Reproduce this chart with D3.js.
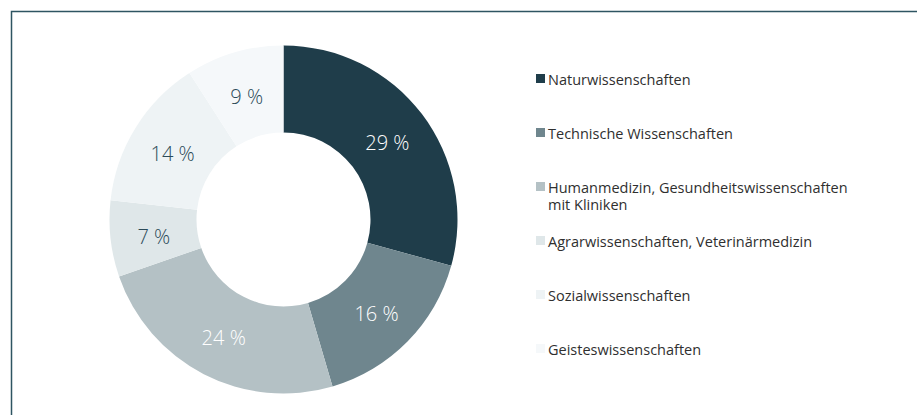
<!DOCTYPE html>
<html>
<head>
<meta charset="utf-8">
<script src="https://cdn.jsdelivr.net/npm/d3@7/dist/d3.min.js"></script>
<style>
  html, body { margin: 0; padding: 0; background: #fff; }
  svg { display: block; }
  text { font-family: "Open Sans", "Noto Sans", sans-serif; }
</style>
</head>
<body>
<svg id="chart" width="917" height="415"></svg>
<script>
// Anteile der Fächergruppen (in %)
const categories = [
  ["Naturwissenschaften"],
  ["Technische Wissenschaften"],
  ["Humanmedizin, Gesundheitswissenschaften", "mit Kliniken"],
  ["Agrarwissenschaften, Veterinärmedizin"],
  ["Sozialwissenschaften"],
  ["Geisteswissenschaften"]
];
const values = [29, 16, 24, 7, 14, 9];
const colors = ["#1f3d4a", "#6f868e", "#b4c1c5", "#dfe7e9", "#eef3f5", "#f5f8fa"];
const labelColors = ["#ffffff", "#ffffff", "#ffffff", "#2b4a58", "#2b4a58", "#2b4a58"];

const svg = d3.select("#chart");

// Rahmen oben und links
svg.append("path")
  .attr("d", "M11.5,415 V11.5 H917")
  .attr("fill", "none")
  .attr("stroke", "#2e5562")
  .attr("stroke-width", 1.5);

const cx = 283.5, cy = 219.5, rOuter = 174, rInner = 87;

const pie = d3.pie().sort(null).value(d => d);
const arcs = pie(values);
const arc = d3.arc().innerRadius(rInner).outerRadius(rOuter);

const g = svg.append("g").attr("transform", `translate(${cx},${cy})`);

g.selectAll("path.slice")
  .data(arcs)
  .join("path")
  .attr("class", "slice")
  .attr("d", arc)
  .attr("fill", (d, i) => colors[i]);

g.selectAll("text.value")
  .data(arcs)
  .join("text")
  .attr("class", "value")
  .attr("transform", d => {
    const [x, y] = arc.centroid(d);
    return `translate(${x},${y + 2.5})`;
  })
  .attr("text-anchor", "middle")
  .attr("dominant-baseline", "central")
  .attr("font-size", 20)
  .attr("font-weight", 300)
  .attr("fill", (d, i) => labelColors[i])
  .text(d => `${d.data} %`);

// Legende
const legendX = 536, legendY0 = 85, legendStep = 54;
const legend = svg.append("g");
const items = legend.selectAll("g.item")
  .data(categories)
  .join("g")
  .attr("class", "item")
  .attr("transform", (d, i) => `translate(${legendX},${legendY0 + i * legendStep})`);

items.append("rect")
  .attr("x", 0).attr("y", -11)
  .attr("width", 9).attr("height", 9)
  .attr("fill", (d, i) => colors[i]);

items.append("text")
  .attr("x", 12)
  .attr("y", 0)
  .attr("font-size", 14.5)
  .attr("fill", "#2f2f2f")
  .selectAll("tspan")
  .data(d => d)
  .join("tspan")
  .attr("x", 12)
  .attr("dy", (d, i) => i === 0 ? 0 : 17)
  .text(d => d);
</script>
</body>
</html>
